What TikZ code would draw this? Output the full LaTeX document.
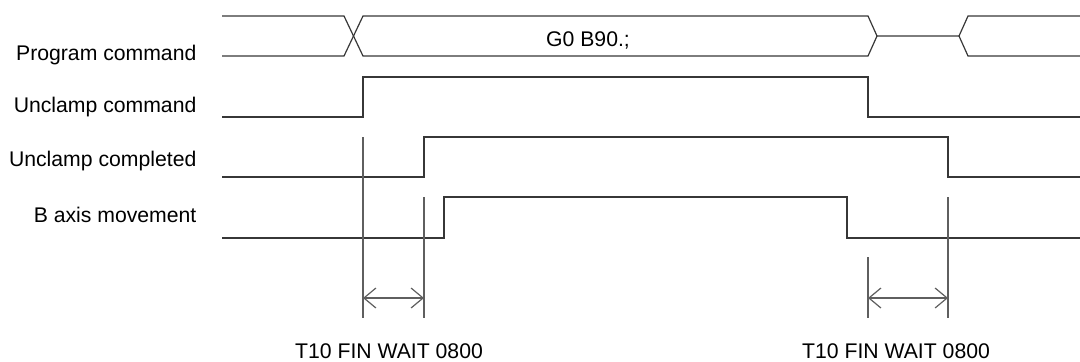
\documentclass[tikz,border=0pt]{standalone}
\usepackage{fontspec}
\setmainfont{Liberation Sans}
\usetikzlibrary{arrows.meta, positioning}
\definecolor{wave}{RGB}{55,55,55}
\definecolor{guide}{RGB}{95,95,95}

\begin{document}
\begin{tikzpicture}[x=0.5pt, y=-0.5pt, line width=0.6pt,
  sig/.style={wave},
  lbl/.style={inner sep=0pt, font=\fontsize{10.6}{12}\selectfont},
  timer/.style={guide, {Straight Barb[length=6pt, width=10pt]}-{Straight Barb[length=6pt, width=10pt]}}]
  \useasboundingbox (0,0) rectangle (1080,361);
  % signal names
  \node[lbl, anchor=east] (prog) at (197,55) {Program command};
  \node[lbl, anchor=east] (ucmd) at (197,107) {Unclamp command};
  \node[lbl, anchor=east] (udone) at (197,161) {Unclamp completed};
  \node[lbl, anchor=east] (baxis) at (197,215) {B axis movement};
  % program command bus
  \draw[sig] (222,16) -- (344,16) -- (363,56) -- (868,56) -- (877,36) -- (959,36) -- (968,56) -- (1080,56);
  \draw[sig] (222,56) -- (344,56) -- (363,16) -- (868,16) -- (877,36);
  \draw[sig] (959,36) -- (968,16) -- (1080,16);
  \node[lbl] (block) at (588,40) {G0 B90.;};
  % levels
  \draw[sig] (222,117) -- (363,117) -- (363,77) -- (868,77) -- (868,117) -- (1080,117);
  \draw[sig] (222,177) -- (424,177) -- (424,137) -- (948,137) -- (948,177) -- (1080,177);
  \draw[sig] (222,238) -- (444,238) -- (444,197) -- (847,197) -- (847,238) -- (1080,238);
  % timer intervals
  \foreach \xa/\ya/\xb/\yb in {363/137/424/197, 868/257/948/197} {
    \coordinate (ta) at (\xa,298);
    \coordinate (tb) at (\xb,298);
    \draw[guide] (\xa,\ya) -- (\xa,318);
    \draw[guide] (\xb,\yb) -- (\xb,318);
    \draw[timer] (ta) -- (tb);
  }
  \node[lbl] (fin1) at (389,351) {T10 FIN WAIT 0800};
  \node[lbl] (fin2) at (896,351) {T10 FIN WAIT 0800};
\end{tikzpicture}
\end{document}
